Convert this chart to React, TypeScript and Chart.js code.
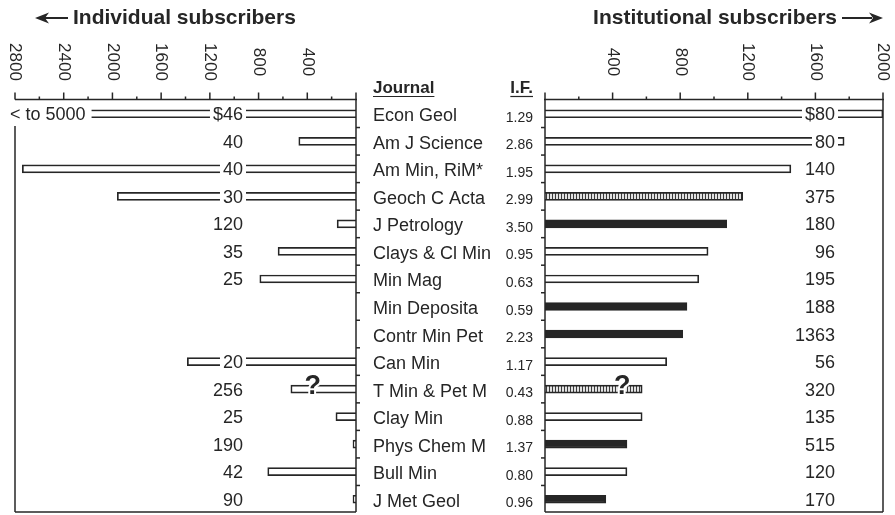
import React, { useEffect, useRef } from "react";
import { Chart, registerables } from "chart.js";
Chart.register(...registerables);

const journals = ["Econ Geol", "Am J Science", "Am Min, RiM*", "Geoch C Acta", "J Petrology", "Clays & Cl Min", "Min Mag", "Min Deposita", "Contr Min Pet", "Can Min", "T Min & Pet M", "Clay Min", "Phys Chem M", "Bull Min", "J Met Geol"];
const impactFactors = ["1.29", "2.86", "1.95", "2.99", "3.50", "0.95", "0.63", "0.59", "2.23", "1.17", "0.43", "0.88", "1.37", "0.80", "0.96"];
const individualSubscribers = [5000, 470, 2740, 1960, 155, 640, 790, 0, 0, 1385, 535, 165, 25, 725, 25];
const individualPrices = ["$46", "40", "40", "30", "120", "35", "25", "", "", "20", "256", "25", "190", "42", "90"];
const institutionalSubscribers = [2000, 1770, 1455, 1170, 1075, 965, 910, 840, 815, 720, 575, 575, 485, 485, 360];
const institutionalPrices = ["$80", "80", "140", "375", "180", "96", "195", "188", "1363", "56", "320", "135", "515", "120", "170"];
const barStyles = ["open", "open", "open", "hatched", "solid", "open", "open", "solid", "solid", "open", "hatched", "open", "solid", "open", "solid"];
const uncertainRows = ["T Min & Pet M"];
const individualMax = 2800;
const institutionalMax = 2000;
const tickStep = 200;
const labelStep = 400;
const leftTitle = "Individual subscribers";
const rightTitle = "Institutional subscribers";
const journalHeader = "Journal";
const ifHeader = "I.F.";

const INK = "#262626";
const FONT = "'Liberation Sans', Arial, Helvetica, sans-serif";

function makeHatch(): any {
  const c = document.createElement("canvas");
  c.width = 3;
  c.height = 8;
  const g = c.getContext("2d");
  if (!g) return "#888";
  g.fillStyle = "#e2e2e2";
  g.fillRect(0, 0, 3, 8);
  g.fillStyle = "#3a3a3a";
  g.fillRect(0, 0, 1, 8);
  const p = g.createPattern(c, "repeat");
  return p || "#888";
}

function line(ctx: CanvasRenderingContext2D, x1: number, y1: number, x2: number, y2: number) {
  ctx.beginPath();
  ctx.moveTo(x1, y1);
  ctx.lineTo(x2, y2);
  ctx.stroke();
}

function boxedText(ctx: CanvasRenderingContext2D, text: string, xRight: number, yc: number) {
  if (!text) return;
  const w = ctx.measureText(text).width;
  ctx.fillStyle = "#ffffff";
  ctx.fillRect(xRight - w - 3, yc - 7, w + 6, 14);
  ctx.fillStyle = INK;
  ctx.textAlign = "right";
  ctx.textBaseline = "alphabetic";
  ctx.fillText(text, xRight, yc + 6.5);
}

function question(ctx: CanvasRenderingContext2D, x: number, yc: number) {
  ctx.font = `bold 27px ${FONT}`;
  ctx.textAlign = "center";
  ctx.textBaseline = "alphabetic";
  ctx.lineWidth = 4;
  ctx.strokeStyle = "#ffffff";
  ctx.strokeText("?", x, yc + 7);
  ctx.fillStyle = INK;
  ctx.fillText("?", x, yc + 7);
}

function drawAxis(ctx: CanvasRenderingContext2D, xs: any, a: any, max: number, x0: number, x1: number) {
  const ay = a.top - 0.5;
  ctx.strokeStyle = INK;
  ctx.lineWidth = 1.5;
  line(ctx, x0, ay, x1, ay);
  for (let v = 0; v <= max; v += tickStep) {
    const px = xs.getPixelForValue(v);
    const major = v % labelStep === 0;
    line(ctx, px, ay, px, ay - (major ? 7 : 3));
  }
  ctx.font = `17px ${FONT}`;
  ctx.fillStyle = INK;
  ctx.textAlign = "center";
  ctx.textBaseline = "middle";
  for (let v = labelStep; v <= max; v += labelStep) {
    const px = xs.getPixelForValue(v);
    ctx.save();
    ctx.translate(px, 62);
    ctx.rotate(Math.PI / 2);
    ctx.fillText(String(v), 0, 0);
    ctx.restore();
  }
}

export default function App() {
  const leftRef = useRef<HTMLCanvasElement>(null);
  const rightRef = useRef<HTMLCanvasElement>(null);

  useEffect(() => {
    if (!leftRef.current || !rightRef.current) return;
    const hatch = makeHatch();
    const rightFills = barStyles.map((s) => (s === "solid" ? INK : s === "hatched" ? hatch : "#ffffff"));

    const leftPlugin = {
      id: "leftDecor",
      beforeDraw(chart: any) {
        const ctx = chart.ctx;
        ctx.save();
        ctx.fillStyle = "#ffffff";
        ctx.fillRect(0, 0, chart.width, chart.height);
        ctx.restore();
      },
      afterDraw(chart: any) {
        const ctx: CanvasRenderingContext2D = chart.ctx;
        const a = chart.chartArea;
        const xs = chart.scales.x;
        const ys = chart.scales.y;
        ctx.save();
        drawAxis(ctx, xs, a, individualMax, a.left, a.right + 1);
        ctx.strokeStyle = INK;
        ctx.lineWidth = 1.5;
        line(ctx, a.left, 126, a.left, a.bottom - 1);
        line(ctx, a.left, a.bottom - 1, a.right, a.bottom - 1);
        line(ctx, a.right, a.top - 1, a.right, a.bottom - 1);
        for (let i = 1; i < journals.length; i++) {
          const yy = (ys.getPixelForValue(i - 1) + ys.getPixelForValue(i)) / 2;
          line(ctx, a.right, yy, a.right + 4, yy);
        }
        ctx.font = `18px ${FONT}`;
        individualPrices.forEach((p, i) => boxedText(ctx, p, 243, ys.getPixelForValue(i)));
        individualSubscribers.forEach((v, i) => {
          if (v > individualMax) {
            const yc = ys.getPixelForValue(i);
            const t = "< to " + v;
            ctx.font = `18px ${FONT}`;
            const w = ctx.measureText(t).width;
            ctx.fillStyle = "#ffffff";
            ctx.fillRect(6, yc - 9, w + 10, 18);
            ctx.fillStyle = INK;
            ctx.textAlign = "left";
            ctx.textBaseline = "alphabetic";
            ctx.fillText(t, 10, yc + 6.5);
          }
        });
        journals.forEach((j, i) => {
          if (uncertainRows.includes(j)) {
            question(ctx, xs.getPixelForValue(individualSubscribers[i]) + 22, ys.getPixelForValue(i) - 2);
          }
        });
        ctx.font = `bold 21px ${FONT}`;
        ctx.fillStyle = INK;
        ctx.textAlign = "left";
        ctx.textBaseline = "middle";
        ctx.fillText(leftTitle, 73, 18);
        ctx.strokeStyle = INK;
        ctx.lineWidth = 2;
        line(ctx, 42, 18, 68, 18);
        ctx.beginPath();
        ctx.moveTo(35, 18);
        ctx.lineTo(49, 12.5);
        ctx.lineTo(45, 18);
        ctx.lineTo(49, 23.5);
        ctx.closePath();
        ctx.fill();
        ctx.restore();
      },
    };

    const rightPlugin = {
      id: "rightDecor",
      afterDraw(chart: any) {
        const ctx: CanvasRenderingContext2D = chart.ctx;
        const a = chart.chartArea;
        const xs = chart.scales.x;
        const ys = chart.scales.y;
        ctx.save();
        drawAxis(ctx, xs, a, institutionalMax, a.left - 1, a.right + 1);
        ctx.strokeStyle = INK;
        ctx.lineWidth = 1.5;
        line(ctx, a.left, a.top - 1, a.left, a.bottom - 1);
        line(ctx, a.left, a.bottom - 1, a.right, a.bottom - 1);
        line(ctx, a.right, a.top - 1, a.right, a.bottom - 1);
        for (let i = 1; i < journals.length; i++) {
          const yy = (ys.getPixelForValue(i - 1) + ys.getPixelForValue(i)) / 2;
          line(ctx, a.left - 4, yy, a.left, yy);
        }
        ctx.font = `18px ${FONT}`;
        institutionalPrices.forEach((p, i) => boxedText(ctx, p, 835, ys.getPixelForValue(i)));
        journals.forEach((j, i) => {
          if (uncertainRows.includes(j)) {
            question(ctx, xs.getPixelForValue(institutionalSubscribers[i]) - 20, ys.getPixelForValue(i) - 2);
          }
        });
        ctx.fillStyle = INK;
        ctx.strokeStyle = INK;
        ctx.lineWidth = 1.2;
        ctx.font = `bold 17px ${FONT}`;
        ctx.textBaseline = "alphabetic";
        ctx.textAlign = "left";
        ctx.fillText(journalHeader, 373, 93);
        let w = ctx.measureText(journalHeader).width;
        line(ctx, 373, 96.5, 373 + w, 96.5);
        ctx.textAlign = "right";
        ctx.fillText(ifHeader, 533, 93);
        w = ctx.measureText(ifHeader).width;
        line(ctx, 533 - w, 96.5, 533, 96.5);
        journals.forEach((j, i) => {
          const yc = ys.getPixelForValue(i);
          ctx.font = `18px ${FONT}`;
          ctx.textAlign = "left";
          ctx.fillText(j, 373, yc + 7.5);
          ctx.font = `14px ${FONT}`;
          ctx.textAlign = "right";
          ctx.fillText(impactFactors[i], 533, yc + 8);
        });
        ctx.font = `bold 21px ${FONT}`;
        ctx.textAlign = "right";
        ctx.textBaseline = "middle";
        ctx.fillText(rightTitle, 837, 18);
        ctx.lineWidth = 2;
        line(ctx, 842, 18, 872, 18);
        ctx.beginPath();
        ctx.moveTo(883, 18);
        ctx.lineTo(869, 12.5);
        ctx.lineTo(873, 18);
        ctx.lineTo(869, 23.5);
        ctx.closePath();
        ctx.fill();
        ctx.restore();
      },
    };

    const common = (max: number, reverse: boolean, padding: any) => ({
      responsive: false,
      animation: false as const,
      devicePixelRatio: 1,
      indexAxis: "y" as const,
      events: [],
      layout: { padding },
      plugins: { legend: { display: false }, tooltip: { enabled: false }, title: { display: false } },
      scales: {
        x: { type: "linear" as const, min: 0, max, reverse, display: false },
        y: { type: "category" as const, offset: true, display: false },
      },
    });

    const left = new Chart(leftRef.current, {
      type: "bar",
      data: {
        labels: journals,
        datasets: [
          {
            data: individualSubscribers,
            backgroundColor: "#ffffff",
            borderColor: INK,
            borderWidth: 1.7,
            barThickness: 8,
          },
        ],
      },
      options: common(individualMax, true, { left: 15, right: 895 - 356, top: 100, bottom: 2 }) as any,
      plugins: [leftPlugin],
    });

    const right = new Chart(rightRef.current, {
      type: "bar",
      data: {
        labels: journals,
        datasets: [
          {
            data: institutionalSubscribers,
            backgroundColor: rightFills,
            borderColor: INK,
            borderWidth: 1.7,
            barThickness: 8,
          },
        ],
      },
      options: common(institutionalMax, false, { left: 545, right: 895 - 883, top: 100, bottom: 2 }) as any,
      plugins: [rightPlugin],
    });

    return () => {
      left.destroy();
      right.destroy();
    };
  }, []);

  return (
    <div style={{ position: "fixed", left: 0, top: 0, width: 895, height: 515, background: "#ffffff" }}>
      <canvas ref={leftRef} width={895} height={515} style={{ position: "absolute", left: 0, top: 0 }} />
      <canvas ref={rightRef} width={895} height={515} style={{ position: "absolute", left: 0, top: 0 }} />
    </div>
  );
}
